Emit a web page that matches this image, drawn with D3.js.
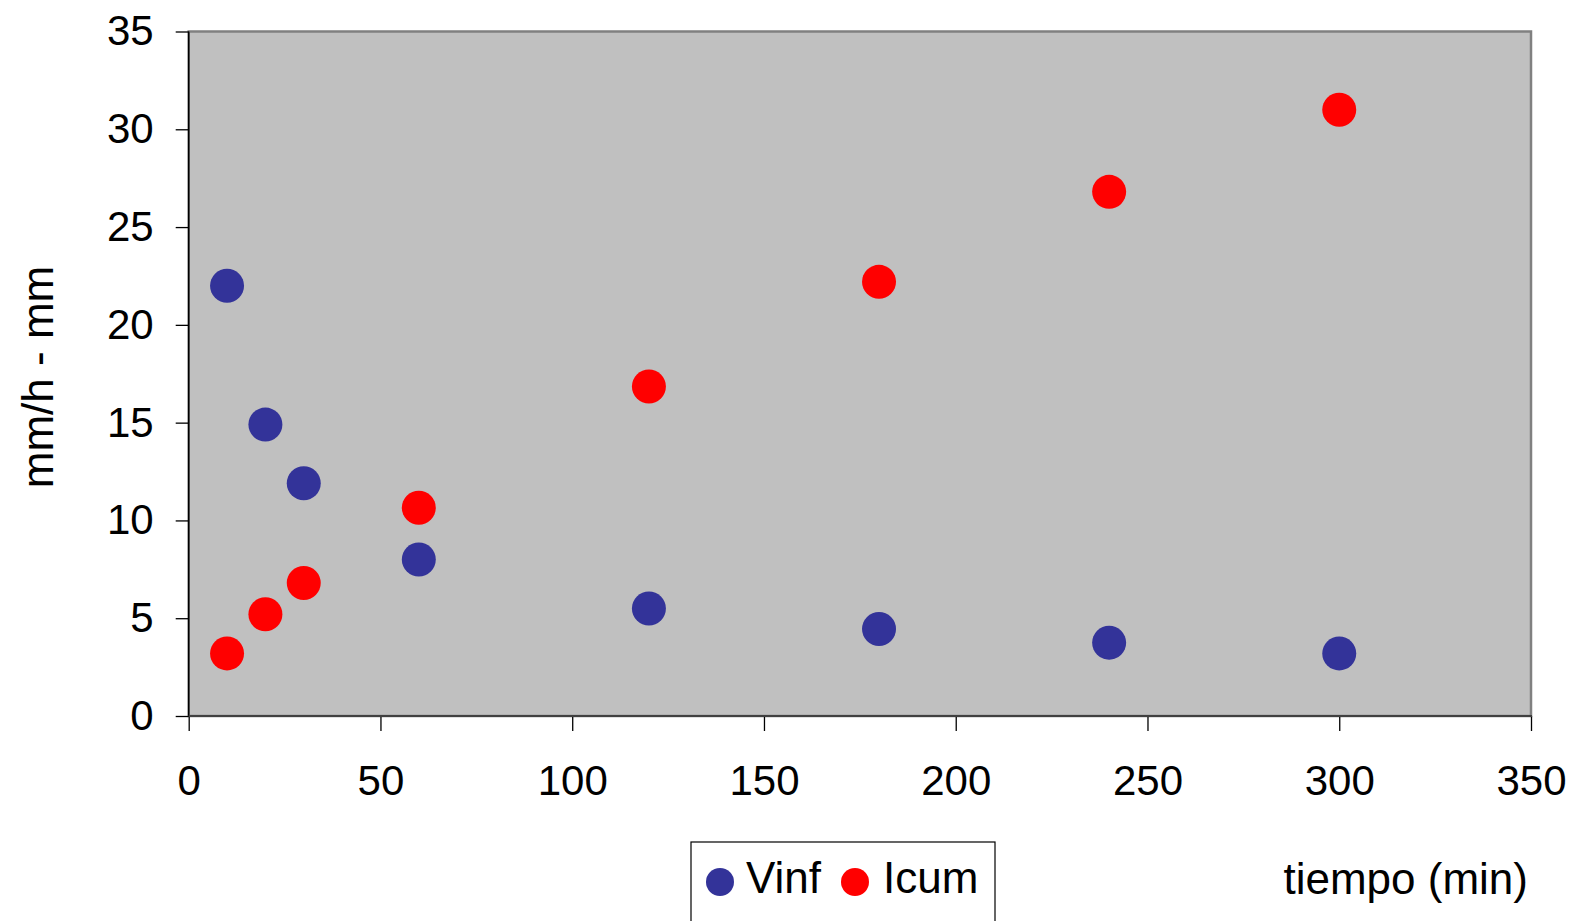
<!DOCTYPE html>
<html>
<head>
<meta charset="utf-8">
<script src="https://cdn.jsdelivr.net/npm/d3@7"></script>
<style>
  html, body { margin: 0; padding: 0; background: #fff; }
  svg { display: block; font-family: "Liberation Sans", Arial, sans-serif; }
</style>
</head>
<body>
<svg id="chart" width="1585" height="921"></svg>
<script>
// Data
const tiempo = [10, 20, 30, 60, 120, 180, 240, 300];
const vinf = [22.0, 14.9, 11.9, 8.0, 5.5, 4.45, 3.75, 3.2];
const icum = [3.2, 5.2, 6.8, 10.65, 16.85, 22.2, 26.8, 31.0];
const xTicks = [0, 50, 100, 150, 200, 250, 300, 350];
const yTicks = [0, 5, 10, 15, 20, 25, 30, 35];
const seriesNames = ["Vinf", "Icum"];
const seriesColors = ["#333399", "#FF0000"];

const svg = d3.select("#chart");
const L = 188.7, R = 1531, T = 31.5, B = 716;

const x = d3.scaleLinear().domain([0, 350]).range([L, R]);
const y = d3.scaleLinear().domain([0, 35]).range([B, T]);

// Plot area
svg.append("rect")
  .attr("x", L).attr("y", T)
  .attr("width", R - L).attr("height", B - T)
  .attr("fill", "#c0c0c0")
  .attr("stroke", "#808080")
  .attr("stroke-width", 2.5);

// Axes
const yAxis = d3.axisLeft(y).tickValues(yTicks).tickSize(13).tickPadding(22).tickFormat(d3.format("d"));
const gy = svg.append("g").attr("transform", `translate(${L},0)`).call(yAxis);
gy.select(".domain").remove();
gy.selectAll(".tick line").attr("stroke", "#000").attr("stroke-width", 1.3);
gy.selectAll(".tick text").attr("font-size", 42).attr("fill", "#000")
  .attr("font-family", "'Liberation Sans', Arial, sans-serif");

const xAxis = d3.axisBottom(x).tickValues(xTicks).tickSize(15).tickPadding(34).tickFormat(d3.format("d"));
const gx = svg.append("g").attr("transform", `translate(0,${B})`).call(xAxis);
gx.select(".domain").remove();
gx.selectAll(".tick line").attr("stroke", "#000").attr("stroke-width", 1.3);
gx.selectAll(".tick text").attr("font-size", 42).attr("fill", "#000")
  .attr("font-family", "'Liberation Sans', Arial, sans-serif");

// axis lines
svg.append("line").attr("x1", L).attr("x2", L).attr("y1", T).attr("y2", B + 1)
  .attr("stroke", "#000").attr("stroke-width", 1.5);
svg.append("line").attr("x1", L).attr("x2", R + 1).attr("y1", B).attr("y2", B)
  .attr("stroke", "#404040").attr("stroke-width", 2);

// Points
const series = [vinf, icum];
series.forEach((vals, si) => {
  svg.append("g").selectAll("circle")
    .data(tiempo.map((t, i) => [t, vals[i]]))
    .join("circle")
    .attr("cx", d => x(d[0]))
    .attr("cy", d => y(d[1]))
    .attr("r", 17)
    .attr("fill", seriesColors[si]);
});

// Axis titles
svg.append("text")
  .attr("transform", "translate(53,377) rotate(-90)")
  .attr("text-anchor", "middle")
  .attr("font-size", 44)
  .attr("fill", "#000")
  .text("mm/h - mm");

svg.append("text")
  .attr("x", 1528).attr("y", 894)
  .attr("text-anchor", "end")
  .attr("font-size", 44)
  .attr("fill", "#000")
  .text("tiempo (min)");

// Legend
const lg = svg.append("g");
lg.append("rect")
  .attr("x", 691).attr("y", 842)
  .attr("width", 304).attr("height", 100)
  .attr("fill", "#fff").attr("stroke", "#000").attr("stroke-width", 1.2);
const legendX = [720, 855];
const textX = [746, 883];
seriesNames.forEach((n, i) => {
  lg.append("circle").attr("cx", legendX[i]).attr("cy", 882).attr("r", 14).attr("fill", seriesColors[i]);
  lg.append("text").attr("x", textX[i]).attr("y", 893)
    .attr("font-size", 44).attr("fill", "#000").text(n);
});
</script>
</body>
</html>
